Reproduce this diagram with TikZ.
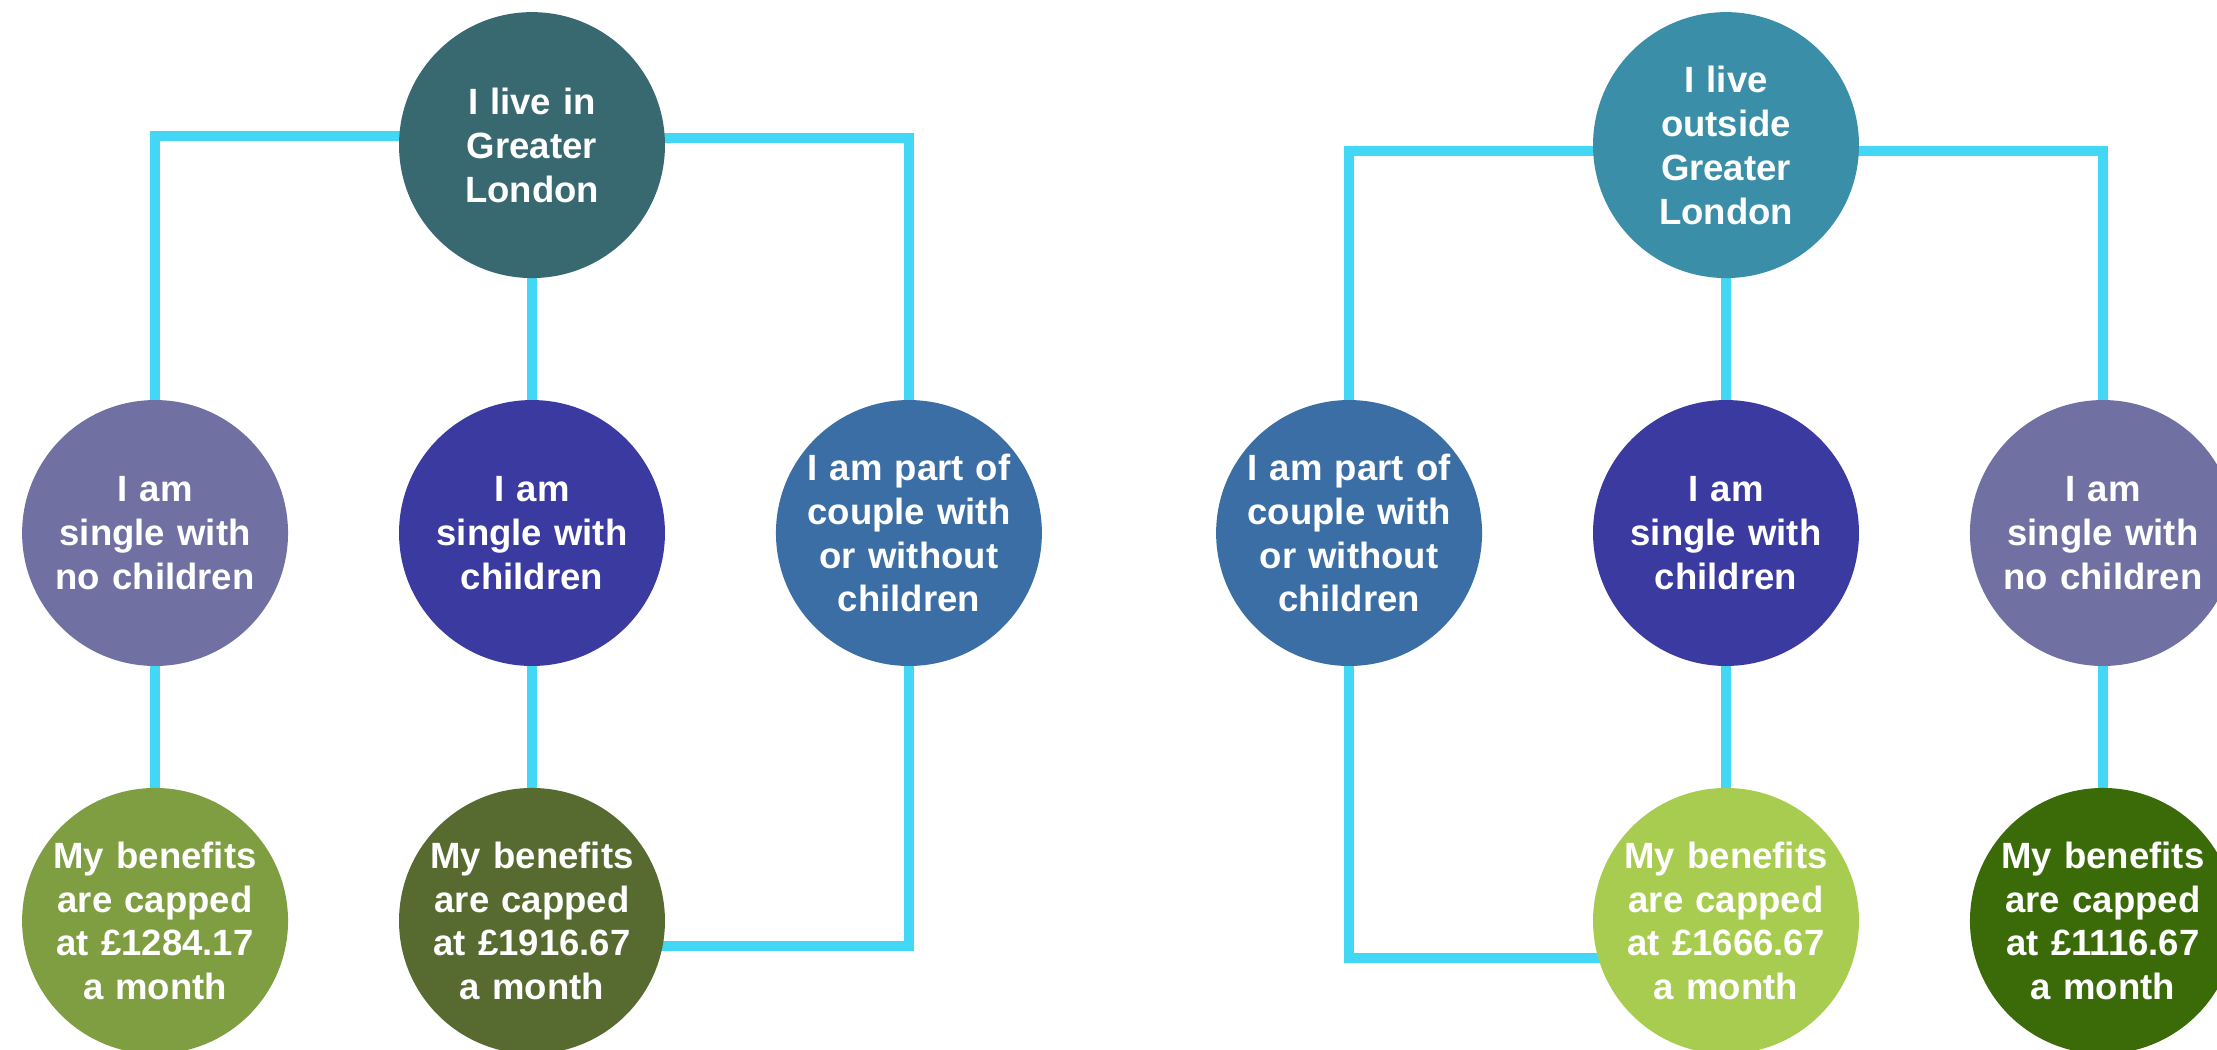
\documentclass[tikz,border=0pt]{standalone}
\usepackage{fontspec}
\setmainfont{Liberation Sans}
\usepackage{tikz}
\usetikzlibrary{matrix,backgrounds}
\setlength{\parindent}{0pt}

\definecolor{inlondon}{RGB}{56,104,112}
\definecolor{outlondon}{RGB}{58,142,168}
\definecolor{singlenokids}{RGB}{112,112,162}
\definecolor{singlekids}{RGB}{58,58,160}
\definecolor{couple}{RGB}{58,110,165}
\definecolor{capa}{RGB}{127,158,66}
\definecolor{capb}{RGB}{87,107,48}
\definecolor{capc}{RGB}{168,204,80}
\definecolor{capd}{RGB}{58,107,8}
\definecolor{linkcyan}{RGB}{66,215,245}

\begin{document}
\begin{tikzpicture}[x=0.02cm,y=-0.02cm,
  link/.style={draw=linkcyan,line width=0.2cm,line join=miter},
  bubble/.style={shape=circle,minimum size=5.32cm,inner sep=0pt,text width=4.2cm,align=center,anchor=center,text=white,font=\fontsize{20.8}{25}\selectfont\bfseries}]
\useasboundingbox (0,0) rectangle (2217,1049);
\matrix(lg) at (532,533) [matrix of nodes, row sep=2.44cm, column sep=2.22cm, nodes={bubble}, ampersand replacement=\&] {
 \& |[fill=inlondon]| I live in\par Greater\par London \& \\
|[fill=singlenokids]| I am\par single with\par no children \& |[fill=singlekids]| I am\par single with\par children \& |[fill=couple]| I am part of\par couple with\par or without\par children \\
|[fill=capa]| My benefits\par are capped\par at £1284.17\par a month \& |[fill=capb]| My benefits\par are capped\par at £1916.67\par a month \& \\
};
\matrix(rg) at (1726,533) [matrix of nodes, row sep=2.44cm, column sep=2.22cm, nodes={bubble}, ampersand replacement=\&] {
 \& |[fill=outlondon]| I live\par outside\par Greater\par London \& \\
|[fill=couple]| I am part of\par couple with\par or without\par children \& |[fill=singlekids]| I am\par single with\par children \& |[fill=singlenokids]| I am\par single with\par no children \\
 \& |[fill=capc]| My benefits\par are capped\par at £1666.67\par a month \& |[fill=capd]| My benefits\par are capped\par at £1116.67\par a month \\
};
\begin{scope}[on background layer]
% Greater London
\draw[link] ([yshift=0.18cm]lg-1-2.center) -| (lg-2-1.north);
\draw[link] ([yshift=0.14cm]lg-1-2.center) -| (lg-2-3.north);
\draw[link] (lg-1-2) -- (lg-2-2);
\draw[link] (lg-2-1) -- (lg-3-1);
\draw[link] (lg-2-2) -- (lg-3-2);
\draw[link] (lg-2-3.center) |- ([yshift=-0.5cm]lg-3-2.center);
% outside Greater London
\draw[link] ([yshift=-0.12cm]rg-1-2.center) -| (rg-2-1.north);
\draw[link] ([yshift=-0.12cm]rg-1-2.center) -| (rg-2-3.north);
\draw[link] (rg-1-2) -- (rg-2-2);
\draw[link] (rg-2-2) -- (rg-3-2);
\draw[link] (rg-2-3) -- (rg-3-3);
\draw[link] (rg-2-1.center) |- ([yshift=-0.74cm]rg-3-2.center);
\end{scope}
\end{tikzpicture}
\end{document}
